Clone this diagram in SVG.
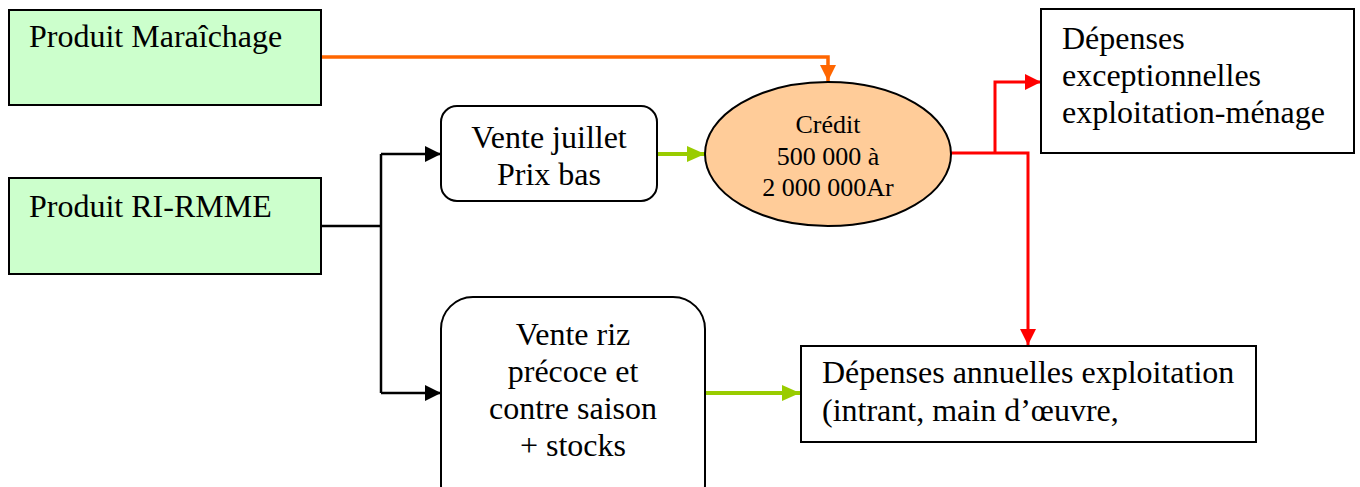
<svg xmlns="http://www.w3.org/2000/svg" width="1360" height="487" viewBox="0 0 1360 487">
<style>
.box{stroke:#000;stroke-width:2}
text{font-family:'Liberation Serif',Tinos,'Times New Roman',Times,serif;fill:#000}
.t{font-size:32px}
.te{font-size:26px}
.c{fill:none;stroke-linejoin:miter}
</style>
<defs>
<marker id="aK" markerUnits="userSpaceOnUse" markerWidth="16" markerHeight="16" refX="16" refY="8" orient="auto"><path d="M0,0 L16,8 L0,16 z" fill="#000"/></marker>
<marker id="aG" markerUnits="userSpaceOnUse" markerWidth="18" markerHeight="16" refX="18" refY="8" orient="auto"><path d="M0,0 L18,8 L0,16 z" fill="#99cc00"/></marker>
<marker id="aO" markerUnits="userSpaceOnUse" markerWidth="16" markerHeight="16" refX="16" refY="8" orient="auto"><path d="M0,0 L16,8 L0,16 z" fill="#ff6600"/></marker>
<marker id="aR" markerUnits="userSpaceOnUse" markerWidth="16" markerHeight="16" refX="16" refY="8" orient="auto"><path d="M0,0 L16,8 L0,16 z" fill="#ff0000"/></marker>
</defs>
<g id="connectors">
<path class="c" d="M321,57 H828 V81" stroke="#ff6600" stroke-width="3.5" marker-end="url(#aO)"/>
<path class="c" d="M321,226 H381" stroke="#000" stroke-width="2.5"/>
<path class="c" d="M381,154 V393" stroke="#000" stroke-width="2.5"/>
<path class="c" d="M381,154 H441" stroke="#000" stroke-width="2.5" marker-end="url(#aK)"/>
<path class="c" d="M381,393 H441" stroke="#000" stroke-width="2.5" marker-end="url(#aK)"/>
<path class="c" d="M657,154 H705" stroke="#99cc00" stroke-width="4" marker-end="url(#aG)"/>
<path class="c" d="M705,393 H800" stroke="#99cc00" stroke-width="4" marker-end="url(#aG)"/>
<path class="c" d="M951,153 H1028 V345" stroke="#ff0000" stroke-width="3" marker-end="url(#aR)"/>
<path class="c" d="M995,153 V82 H1041" stroke="#ff0000" stroke-width="3" marker-end="url(#aR)"/>
</g>
<g id="produit-maraichage">
<rect class="box" x="9" y="10" width="312" height="95" fill="#ccffcc"/>
<text class="t" x="29" y="47">Produit Maraîchage</text>
</g>
<g id="produit-ri-rmme">
<rect class="box" x="9" y="178" width="312" height="96" fill="#ccffcc"/>
<text class="t" x="29" y="217">Produit RI-RMME</text>
</g>
<g id="vente-juillet">
<rect class="box" x="441" y="106" width="216" height="95" rx="16" ry="16" fill="#fff"/>
<text class="t" x="549" y="148" text-anchor="middle">Vente juillet</text>
<text class="t" x="549" y="185" text-anchor="middle">Prix bas</text>
</g>
<g id="credit">
<ellipse class="box" cx="828" cy="154" rx="123" ry="72" fill="#ffcc99"/>
<text class="te" x="828" y="133" text-anchor="middle">Crédit</text>
<text class="te" x="828" y="165" text-anchor="middle">500 000 à</text>
<text class="te" x="828" y="196" text-anchor="middle">2 000 000Ar</text>
</g>
<g id="depenses-exceptionnelles">
<rect class="box" x="1041" y="9" width="313" height="144" fill="#fff"/>
<text class="t" x="1062" y="49">Dépenses</text>
<text class="t" x="1062" y="86">exceptionnelles</text>
<text class="t" x="1062" y="123">exploitation-ménage</text>
</g>
<g id="vente-riz">
<rect class="box" x="441" y="297" width="264" height="220" rx="32" ry="32" fill="#fff"/>
<text class="t" x="573" y="345" text-anchor="middle">Vente riz</text>
<text class="t" x="573" y="382" text-anchor="middle">précoce et</text>
<text class="t" x="573" y="419" text-anchor="middle">contre saison</text>
<text class="t" x="573" y="456" text-anchor="middle">+ stocks</text>
</g>
<g id="depenses-annuelles">
<rect class="box" x="801" y="346" width="455" height="96" fill="#fff"/>
<text class="t" x="822" y="383">Dépenses annuelles exploitation</text>
<text class="t" x="822" y="421">(intrant, main d’œuvre,</text>
</g>
</svg>
